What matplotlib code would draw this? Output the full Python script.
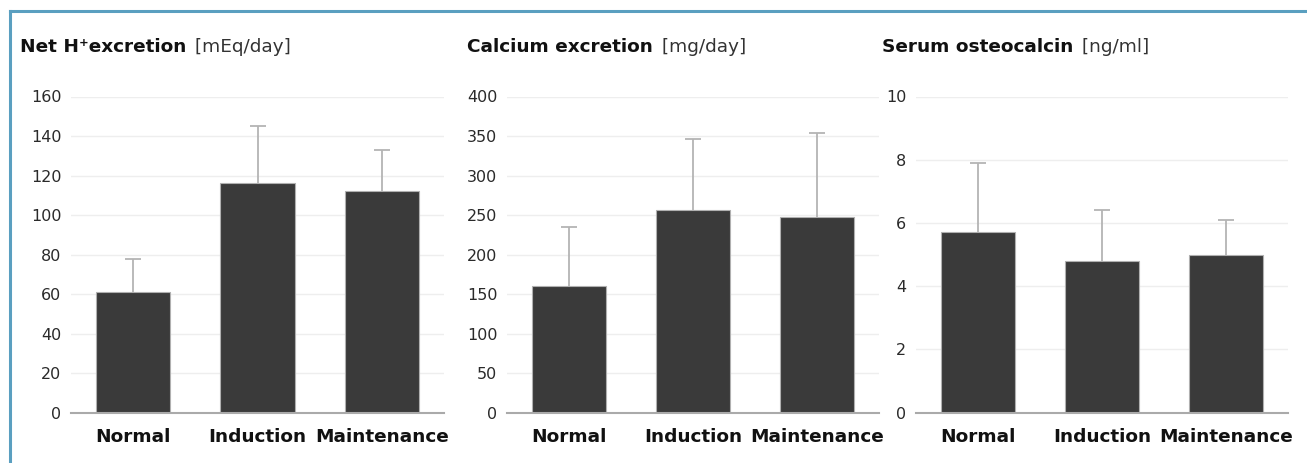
import matplotlib
matplotlib.use("Agg")
import matplotlib.pyplot as plt
from matplotlib.lines import Line2D

categories = ["Normal", "Induction", "Maintenance"]

h_values = [61, 116, 112]
h_upper = [78, 145, 133]

ca_values = [160, 257, 248]
ca_upper = [235, 346, 354]

oc_values = [5.7, 4.8, 5.0]
oc_upper = [7.9, 6.4, 6.1]

titles_bold = ["Net H\u207aexcretion", "Calcium excretion", "Serum osteocalcin"]
titles_unit = ["[mEq/day]", "[mg/day]", "[ng/ml]"]
y_ticks = [list(range(0, 161, 20)), list(range(0, 401, 50)), list(range(0, 11, 2))]
y_max = [160, 400, 10]

W, H = 1307, 463
fig = plt.figure(figsize=(W / 100, H / 100), dpi=100)
fig.patch.set_facecolor("white")

x_extents = [(71, 444), (507, 879), (916, 1288)]
y_bottom_px, y_top_px = 412.7, 96.5
title_pos = [(20, 47), (467, 47), (882, 47)]

datasets = [(h_values, h_upper), (ca_values, ca_upper), (oc_values, oc_upper)]

for i, (vals, upper) in enumerate(datasets):
    l, r = x_extents[i]
    ax = fig.add_axes([l / W, 1 - y_bottom_px / H, (r - l) / W, (y_bottom_px - y_top_px) / H])
    xs = list(range(len(categories)))
    ax.bar(xs, vals, width=0.6, color="#3a3a3a", edgecolor="#b0b0b0", linewidth=0.8, zorder=3)
    ax.vlines(xs, vals, upper, color="#b4b4b4", linewidth=1.3, zorder=2)
    ax.plot(xs, upper, linestyle="none", marker="_", markersize=12, markeredgewidth=1.3,
            color="#b4b4b4", zorder=2)
    ax.set_xlim(-0.5, 2.5)
    ax.set_ylim(0, y_max[i])
    ax.set_yticks(y_ticks[i])
    ax.set_xticks(xs)
    ax.set_xticklabels(categories, fontsize=13.3, fontweight="bold", color="#111111")
    ax.tick_params(axis="x", length=0, pad=11)
    ax.tick_params(axis="y", length=0, pad=7, labelsize=11.5, labelcolor="#2a2a2a")
    ax.grid(axis="y", color="#eeeeee", linewidth=1.0, zorder=0)
    ax.set_axisbelow(True)
    for s in ["top", "right", "left"]:
        ax.spines[s].set_visible(False)
    ax.spines["bottom"].set_color("#aaaaaa")
    ax.spines["bottom"].set_linewidth(1.5)
    ax.spines["bottom"].set_zorder(4)

    tx, ty = title_pos[i]
    t1 = fig.text(tx / W, 1 - ty / H, titles_bold[i], fontsize=13.3, fontweight="bold",
                  color="#111111", va="center", ha="left")
    ax.annotate(" " + titles_unit[i], xy=(1, 0), xycoords=t1, xytext=(2, 0),
                textcoords="offset points", va="bottom", ha="left",
                fontsize=13.3, color="#333333", annotation_clip=False)

bc = "#5a9fc0"
fig.add_artist(Line2D([10 / W, 1], [1 - 11 / H, 1 - 11 / H], transform=fig.transFigure,
                      color=bc, linewidth=2.2))
fig.add_artist(Line2D([10 / W, 10 / W], [0, 1 - 11 / H], transform=fig.transFigure,
                      color=bc, linewidth=2.2))

fig.savefig("out.png", dpi=100, facecolor="white")
